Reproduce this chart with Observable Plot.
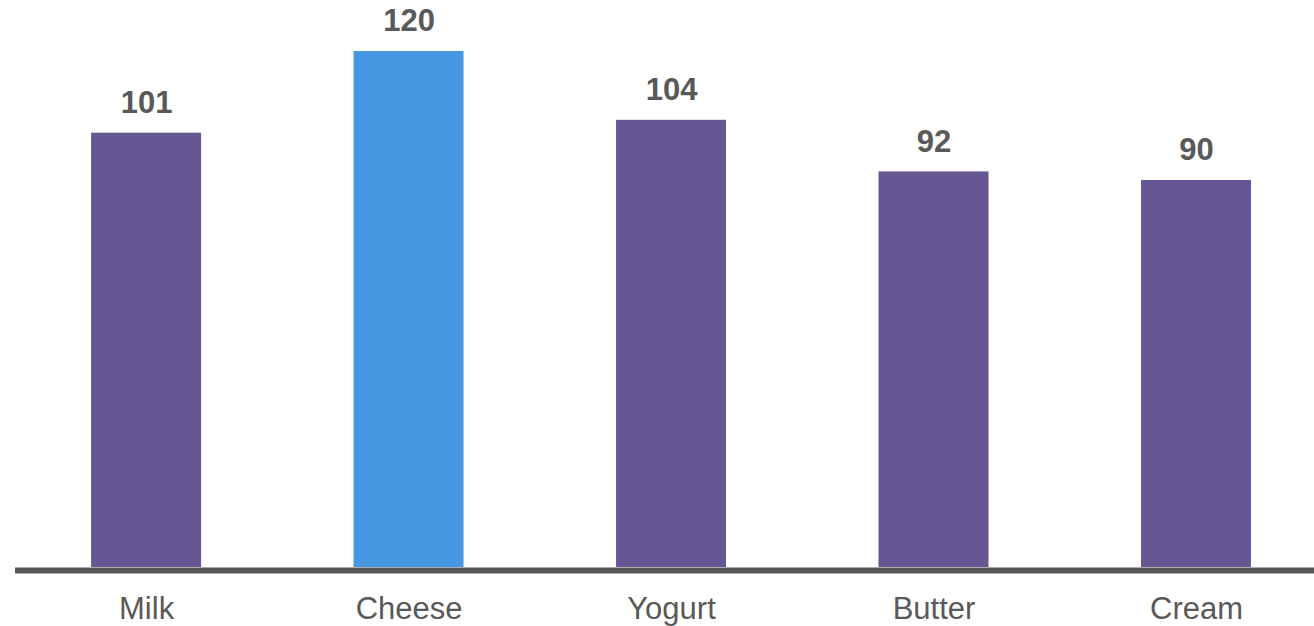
<!DOCTYPE html>
<html>
<head>
<meta charset="utf-8">
<script src="https://cdn.jsdelivr.net/npm/d3@7"></script>
<script src="https://cdn.jsdelivr.net/npm/@observablehq/plot@0.6"></script>
<style>
  html, body { margin: 0; padding: 0; background: #fff; }
  #chart svg { display: block; }
</style>
</head>
<body>
<div id="chart"></div>
<script>
const categories = ["Milk", "Cheese", "Yogurt", "Butter", "Cream"];
const values = [101, 120, 104, 92, 90];
const highlight = "Cheese";

const data = categories.map((c, i) => ({category: c, value: values[i]}));

const chart = Plot.plot({
  width: 1314,
  height: 626,
  marginLeft: 15,
  marginRight: 0,
  marginTop: 51,
  marginBottom: 59,
  style: {fontFamily: "'Liberation Sans', Arial, sans-serif", background: "#fff"},
  x: {domain: categories, paddingInner: 0.581, paddingOuter: 0.265, align: 0.547, round: false, label: null},
  y: {domain: [0, 120], axis: null},
  marks: [
    Plot.barY(data, {x: "category", y: "value", fill: d => d.category === highlight ? "#4698E2" : "#665794"}),
    Plot.ruleY([0], {stroke: "#595959", strokeWidth: 6, dy: 3}),
    Plot.text(data, {x: "category", y: "value", text: d => String(d.value), dy: -30, fontSize: 31, fontWeight: "bold", fill: "#595959", lineAnchor: "middle"}),
    Plot.axisX({tickSize: 0, tickPadding: 29, fontSize: 31, color: "#595959", label: null})
  ]
});
document.getElementById("chart").append(chart);
</script>
</body>
</html>
